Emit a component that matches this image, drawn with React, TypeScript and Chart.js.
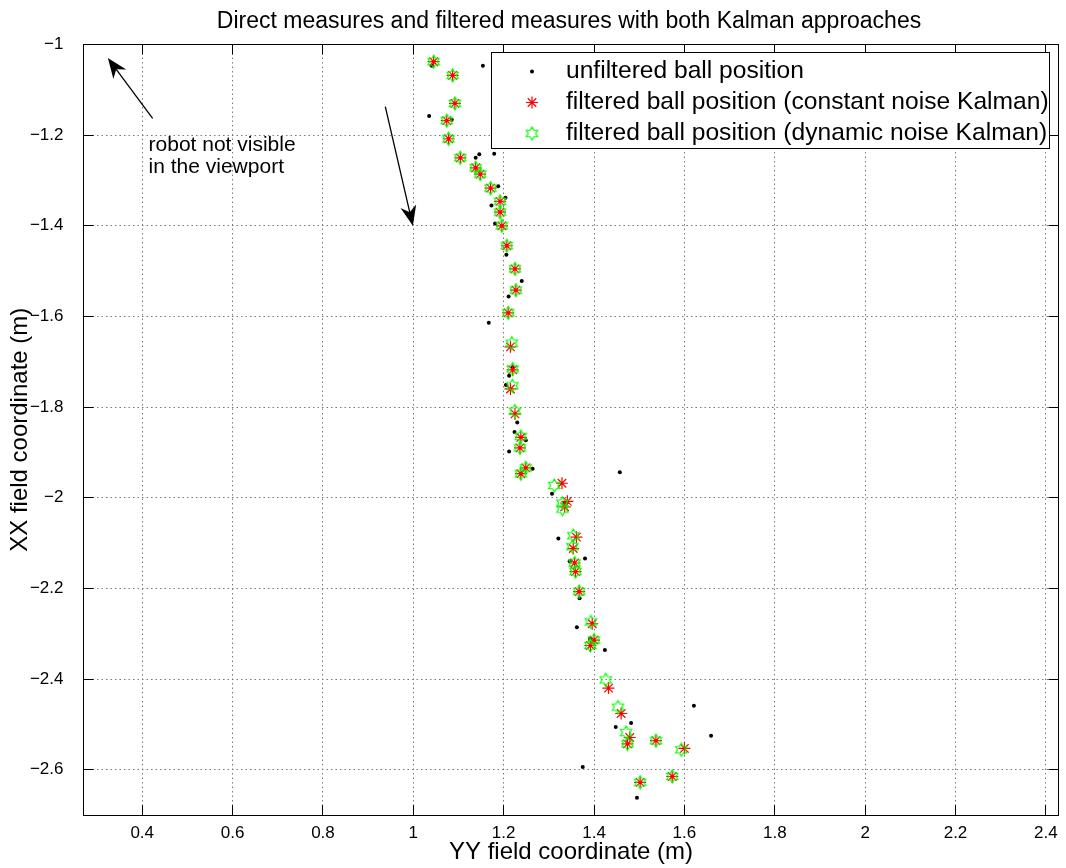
import React, { useEffect, useRef } from 'react';
import { Chart, registerables } from 'chart.js';

Chart.register(...registerables);

const titleText = 'Direct measures and filtered measures with both Kalman approaches';
const xAxisTitle = 'YY field coordinate (m)';
const yAxisTitle = 'XX field coordinate (m)';

const xTicks = [0.4, 0.6, 0.8, 1, 1.2, 1.4, 1.6, 1.8, 2, 2.2, 2.4];
const yTicks = [-1, -1.2, -1.4, -1.6, -1.8, -2, -2.2, -2.4, -2.6];

const legendLabels = [
  'unfiltered ball position',
  'filtered ball position (constant noise Kalman)',
  'filtered ball position (dynamic noise Kalman)',
];

const unfilteredX = [1.041, 1.154, 1.035, 1.085, 1.138, 1.146, 1.179, 1.188, 1.204, 1.173, 1.181, 1.206, 1.240, 1.211, 1.167, 1.220, 1.212, 1.205, 1.230, 1.224, 1.249, 1.212, 1.264, 1.457, 1.307, 1.334, 1.321, 1.380, 1.346, 1.368, 1.362, 1.391, 1.424, 1.621, 1.659, 1.482, 1.448, 1.375, 1.495];
const unfilteredY = [-1.047, -1.047, -1.158, -1.166, -1.250, -1.242, -1.241, -1.313, -1.338, -1.355, -1.395, -1.464, -1.522, -1.556, -1.614, -1.712, -1.731, -1.751, -1.834, -1.855, -1.873, -1.898, -1.936, -1.944, -1.991, -2.011, -2.090, -2.134, -2.140, -2.222, -2.286, -2.311, -2.336, -2.459, -2.525, -2.497, -2.506, -2.594, -2.662];

const constantX = [1.045, 1.087, 1.092, 1.074, 1.078, 1.104, 1.138, 1.148, 1.171, 1.192, 1.192, 1.196, 1.207, 1.225, 1.227, 1.210, 1.215, 1.220, 1.215, 1.225, 1.238, 1.236, 1.249, 1.238, 1.329, 1.341, 1.335, 1.361, 1.354, 1.357, 1.359, 1.367, 1.396, 1.400, 1.392, 1.432, 1.460, 1.479, 1.474, 1.502, 1.537, 1.573, 1.600];
const constantY = [-1.038, -1.068, -1.130, -1.168, -1.208, -1.250, -1.272, -1.286, -1.317, -1.346, -1.370, -1.400, -1.444, -1.495, -1.542, -1.592, -1.667, -1.718, -1.760, -1.815, -1.867, -1.890, -1.934, -1.947, -1.968, -2.008, -2.020, -2.087, -2.112, -2.144, -2.163, -2.207, -2.278, -2.314, -2.326, -2.420, -2.476, -2.529, -2.543, -2.628, -2.536, -2.615, -2.553];

const dynamicX = [1.045, 1.087, 1.092, 1.074, 1.078, 1.104, 1.138, 1.148, 1.171, 1.192, 1.192, 1.196, 1.207, 1.225, 1.227, 1.210, 1.218, 1.220, 1.219, 1.225, 1.238, 1.236, 1.249, 1.238, 1.312, 1.330, 1.330, 1.354, 1.352, 1.357, 1.359, 1.367, 1.393, 1.400, 1.392, 1.426, 1.453, 1.471, 1.474, 1.502, 1.537, 1.573, 1.593];
const dynamicY = [-1.038, -1.068, -1.130, -1.168, -1.208, -1.250, -1.272, -1.286, -1.317, -1.346, -1.370, -1.400, -1.444, -1.495, -1.542, -1.592, -1.659, -1.716, -1.753, -1.809, -1.865, -1.890, -1.934, -1.947, -1.973, -2.012, -2.025, -2.084, -2.108, -2.144, -2.163, -2.207, -2.274, -2.314, -2.326, -2.402, -2.462, -2.518, -2.543, -2.628, -2.536, -2.615, -2.556];

// annotation (in data units)
const arrowTails = [[0.423, -1.163], [0.938, -1.137]];
const arrowHeads = [[0.324, -1.030], [0.999, -1.400]];
const noteLines = ['robot not visible', 'in the viewport'];
const noteAnchorX = 0.414;
const noteBaselinesY = [-1.234, -1.283];

const FONT = '"Liberation Sans", Arial, Helvetica, sans-serif';

function makeHexagram(r: number, color: string, lw: number) {
  const size = Math.ceil(2 * r + 4);
  const c = document.createElement('canvas');
  c.width = size;
  c.height = size;
  const ctx = c.getContext('2d')!;
  ctx.translate(size / 2, size / 2);
  const ri = r / Math.sqrt(3);
  ctx.beginPath();
  for (let i = 0; i < 12; i++) {
    const ang = -Math.PI / 2 + (i * Math.PI) / 6;
    const rr = i % 2 === 0 ? r : ri;
    const px = Math.cos(ang) * rr;
    const py = Math.sin(ang) * rr;
    if (i === 0) ctx.moveTo(px, py);
    else ctx.lineTo(px, py);
  }
  ctx.closePath();
  ctx.strokeStyle = color;
  ctx.lineWidth = lw;
  ctx.stroke();
  return c;
}

function fmt(v: number) {
  const s = String(Math.abs(v));
  return v < 0 ? '\u2212' + s : s;
}

function drawArrow(ctx: CanvasRenderingContext2D, x1: number, y1: number, x2: number, y2: number) {
  const ang = Math.atan2(y2 - y1, x2 - x1);
  const L = 20, W = 8, notch = 6;
  const bx = x2 - Math.cos(ang) * L;
  const by = y2 - Math.sin(ang) * L;
  const nx = x2 - Math.cos(ang) * (L - notch);
  const ny = y2 - Math.sin(ang) * (L - notch);
  ctx.save();
  ctx.strokeStyle = '#000';
  ctx.fillStyle = '#000';
  ctx.lineWidth = 1.3;
  ctx.beginPath();
  ctx.moveTo(x1, y1);
  ctx.lineTo(nx, ny);
  ctx.stroke();
  ctx.beginPath();
  ctx.moveTo(x2, y2);
  ctx.lineTo(bx + Math.cos(ang + Math.PI / 2) * W, by + Math.sin(ang + Math.PI / 2) * W);
  ctx.lineTo(nx, ny);
  ctx.lineTo(bx - Math.cos(ang + Math.PI / 2) * W, by - Math.sin(ang + Math.PI / 2) * W);
  ctx.closePath();
  ctx.fill();
  ctx.restore();
}

export default function App() {
  const ref = useRef<HTMLCanvasElement>(null);

  useEffect(() => {
    const canvas = ref.current!;
    const hexagram = makeHexagram(6.5, '#00ff00', 1.2);

    const decor = {
      id: 'decor',
      beforeDatasetsDraw(chart: any) {
        const { ctx, chartArea: a, scales } = chart;
        const xs = scales.x, ys = scales.y;
        ctx.save();
        ctx.strokeStyle = '#7a7a7a';
        ctx.lineWidth = 1;
        ctx.setLineDash([1.5, 3]);
        xTicks.forEach((v) => {
          const px = Math.floor(xs.getPixelForValue(v)) + 0.5;
          ctx.beginPath();
          ctx.moveTo(px, a.bottom);
          ctx.lineTo(px, a.top);
          ctx.stroke();
        });
        yTicks.forEach((v) => {
          const py = Math.floor(ys.getPixelForValue(v)) + 0.5;
          ctx.beginPath();
          ctx.moveTo(a.left, py);
          ctx.lineTo(a.right, py);
          ctx.stroke();
        });
        ctx.restore();
      },
      afterDatasetsDraw(chart: any) {
        const { ctx, chartArea: a, scales } = chart;
        const xs = scales.x, ys = scales.y;
        ctx.save();
        // frame
        ctx.strokeStyle = '#000';
        ctx.lineWidth = 1;
        ctx.setLineDash([]);
        ctx.strokeRect(Math.floor(a.left) + 0.5, Math.floor(a.top) + 0.5, Math.round(a.right - a.left), Math.round(a.bottom - a.top));
        // inward ticks
        const tl = 10;
        xTicks.forEach((v) => {
          const px = Math.floor(xs.getPixelForValue(v)) + 0.5;
          ctx.beginPath();
          ctx.moveTo(px, a.bottom);
          ctx.lineTo(px, a.bottom - tl);
          ctx.moveTo(px, a.top);
          ctx.lineTo(px, a.top + tl);
          ctx.stroke();
        });
        yTicks.forEach((v) => {
          const py = Math.floor(ys.getPixelForValue(v)) + 0.5;
          ctx.beginPath();
          ctx.moveTo(a.left, py);
          ctx.lineTo(a.left + tl, py);
          ctx.moveTo(a.right, py);
          ctx.lineTo(a.right - tl, py);
          ctx.stroke();
        });
        // arrows
        for (let i = 0; i < arrowTails.length; i++) {
          drawArrow(
            ctx,
            xs.getPixelForValue(arrowTails[i][0]),
            ys.getPixelForValue(arrowTails[i][1]),
            xs.getPixelForValue(arrowHeads[i][0]),
            ys.getPixelForValue(arrowHeads[i][1])
          );
        }
        // note text
        ctx.fillStyle = '#000';
        ctx.font = `21px ${FONT}`;
        ctx.textAlign = 'left';
        ctx.textBaseline = 'alphabetic';
        noteLines.forEach((t, i) => {
          ctx.fillText(t, xs.getPixelForValue(noteAnchorX), ys.getPixelForValue(noteBaselinesY[i]));
        });
        // legend
        const lx = 491.5, ly = 52.5, lw = 558, lh = 96;
        ctx.fillStyle = '#fff';
        ctx.fillRect(lx, ly, lw, lh);
        ctx.strokeStyle = '#000';
        ctx.lineWidth = 1;
        ctx.strokeRect(lx, ly, lw, lh);
        const rows = [71.5, 102.5, 133.5];
        const mx = 532;
        ctx.fillStyle = '#000';
        ctx.beginPath();
        ctx.arc(mx, rows[0], 2, 0, Math.PI * 2);
        ctx.fill();
        ctx.strokeStyle = '#ff0000';
        ctx.lineWidth = 1.2;
        ctx.beginPath();
        for (let k = 0; k < 4; k++) {
          const ang = (k * Math.PI) / 4;
          ctx.moveTo(mx + Math.cos(ang) * 6, rows[1] + Math.sin(ang) * 6);
          ctx.lineTo(mx - Math.cos(ang) * 6, rows[1] - Math.sin(ang) * 6);
        }
        ctx.stroke();
        ctx.drawImage(hexagram, mx - hexagram.width / 2, rows[2] - hexagram.height / 2);
        ctx.fillStyle = '#000';
        ctx.font = `24.6px ${FONT}`;
        ctx.textBaseline = 'middle';
        legendLabels.forEach((t, i) => ctx.fillText(t, 566, rows[i]));
        // title
        ctx.font = `23px ${FONT}`;
        ctx.textAlign = 'center';
        ctx.textBaseline = 'alphabetic';
        ctx.fillText(titleText, (a.left + a.right) / 2 - 2, 28);
        ctx.restore();
      },
    };

    const chart = new Chart(canvas, {
      type: 'scatter',
      data: {
        datasets: [
          {
            label: legendLabels[0],
            data: unfilteredX.map((x, i) => ({ x, y: unfilteredY[i] })),
            pointStyle: 'circle',
            pointRadius: 2,
            pointBackgroundColor: '#000',
            pointBorderWidth: 0,
            order: 3,
          },
          {
            label: legendLabels[1],
            data: constantX.map((x, i) => ({ x, y: constantY[i] })),
            pointStyle: 'star',
            pointRadius: 6,
            pointBorderColor: '#ff0000',
            pointBorderWidth: 1.2,
            order: 2,
          },
          {
            label: legendLabels[2],
            data: dynamicX.map((x, i) => ({ x, y: dynamicY[i] })),
            pointStyle: hexagram as any,
            pointRadius: 6.5,
            order: 1,
          },
        ],
      },
      options: {
        responsive: false,
        animation: false,
        events: [],
        layout: { padding: { top: 44.5, right: 4, left: 0, bottom: 0 } },
        plugins: {
          legend: { display: false },
          tooltip: { enabled: false },
          title: { display: false },
        },
        scales: {
          x: {
            type: 'linear',
            min: 0.27,
            max: 2.428,
            grid: { display: false, drawTicks: false },
            border: { display: false },
            afterBuildTicks: (scale: any) => {
              scale.ticks = xTicks.map((v) => ({ value: v }));
            },
            afterFit: (scale: any) => {
              scale.height = 53;
            },
            ticks: {
              callback: (v: any) => fmt(Number(v)),
              font: { family: FONT, size: 17 },
              color: '#000',
              padding: 8,
              maxRotation: 0,
              autoSkip: false,
            },
            title: {
              display: true,
              text: xAxisTitle,
              font: { family: FONT, size: 24 },
              color: '#000',
              padding: { top: 0, bottom: 1 },
            },
          },
          y: {
            type: 'linear',
            min: -2.7,
            max: -1,
            grid: { display: false, drawTicks: false },
            border: { display: false },
            afterBuildTicks: (scale: any) => {
              scale.ticks = yTicks.map((v) => ({ value: v }));
            },
            afterFit: (scale: any) => {
              scale.width = 83.5;
            },
            ticks: {
              callback: (v: any) => fmt(Number(v)),
              font: { family: FONT, size: 17 },
              color: '#000',
              padding: 20,
              autoSkip: false,
            },
            title: {
              display: true,
              text: yAxisTitle,
              font: { family: FONT, size: 24 },
              color: '#000',
              padding: { top: 6, bottom: 0 },
            },
          },
        },
      },
      plugins: [decor],
    });

    return () => chart.destroy();
  }, []);

  return (
    <div style={{ position: 'fixed', left: 0, top: 0, width: 1066, height: 868, background: '#fff' }}>
      <canvas ref={ref} width={1066} height={868} style={{ width: 1066, height: 868, display: 'block' }} />
    </div>
  );
}
